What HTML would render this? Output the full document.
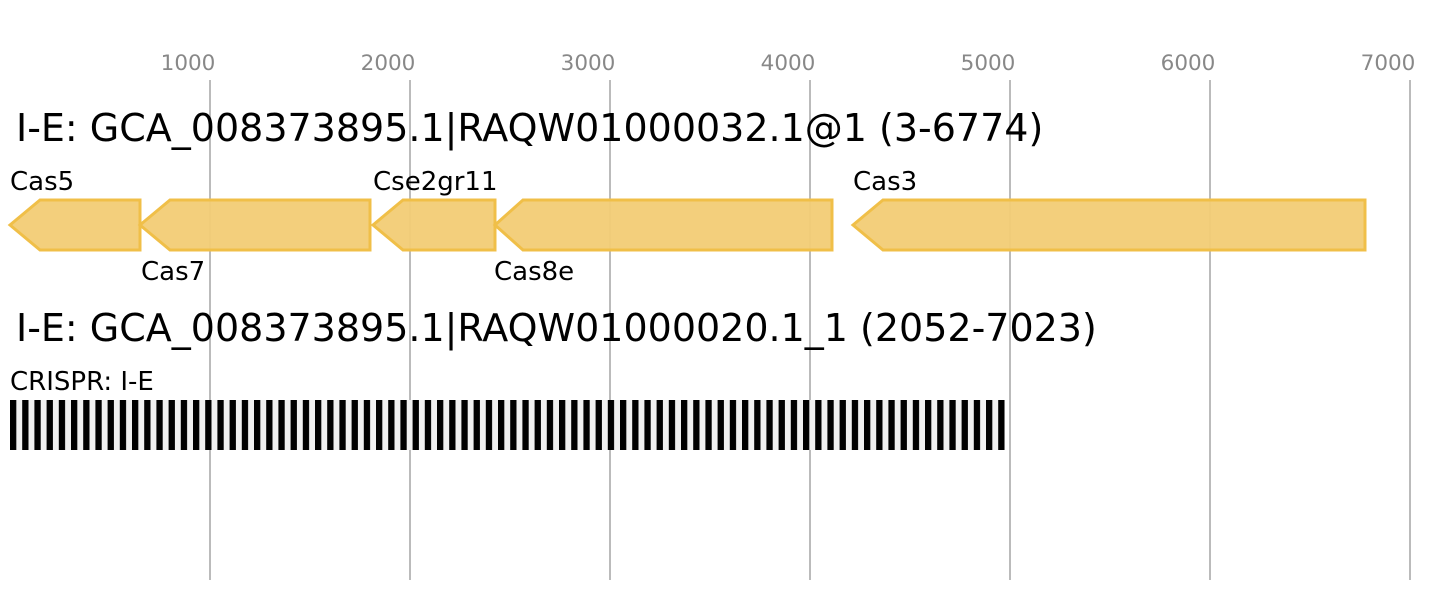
<!DOCTYPE html>
<html><head><meta charset="utf-8"><style>
body{margin:0;background:#fff;}
svg{display:block;font-family:"DejaVu Sans","Liberation Sans",sans-serif;}
</style></head><body>
<svg width="1454" height="600" xmlns="http://www.w3.org/2000/svg">
<defs>
<pattern id="rep" x="10" y="400" width="12.2" height="50" patternUnits="userSpaceOnUse">
<rect x="0" y="0" width="12.2" height="50" fill="#f0f0f0"/>
<rect x="0" y="0" width="6.3" height="50" fill="#000"/>
</pattern>
</defs>
<g stroke="#bbb" stroke-width="2">
<line x1="210" y1="80" x2="210" y2="580"/><line x1="410" y1="80" x2="410" y2="580"/>
<line x1="610" y1="80" x2="610" y2="580"/><line x1="810" y1="80" x2="810" y2="580"/>
<line x1="1010" y1="80" x2="1010" y2="580"/><line x1="1210" y1="80" x2="1210" y2="580"/>
<line x1="1410" y1="80" x2="1410" y2="580"/>
</g>
<g fill="#888" font-size="21.5" text-anchor="middle">
<text x="188" y="70">1000</text><text x="388" y="70">2000</text><text x="588" y="70">3000</text>
<text x="788" y="70">4000</text><text x="988" y="70">5000</text><text x="1188" y="70">6000</text>
<text x="1388" y="70">7000</text>
</g>
<text x="16" y="141" font-size="38" fill="#000">I-E: GCA_008373895.1|RAQW01000032.1@1 (3-6774)</text>
<text x="16" y="341" font-size="38" fill="#000">I-E: GCA_008373895.1|RAQW01000020.1_1 (2052-7023)</text>
<g fill="#f2cc75" stroke="#f0bf48" stroke-width="3" fill-opacity="0.95">
<polygon points="10,225 40,200 140,200 140,250 40,250"/>
<polygon points="140,225 170,200 370,200 370,250 170,250"/>
<polygon points="373,225 403,200 495,200 495,250 403,250"/>
<polygon points="495,225 523,200 832,200 832,250 523,250"/>
<polygon points="853,225 883,200 1365,200 1365,250 883,250"/>
</g>
<g font-size="26" fill="#000">
<text x="10" y="190">Cas5</text><text x="141" y="280">Cas7</text>
<text x="373" y="190">Cse2gr11</text><text x="494" y="280">Cas8e</text>
<text x="853" y="190">Cas3</text>
<text x="10" y="390">CRISPR: I-E</text>
</g>
<rect x="10" y="400" width="995" height="50" fill="url(#rep)"/>
</svg>
</body></html>
